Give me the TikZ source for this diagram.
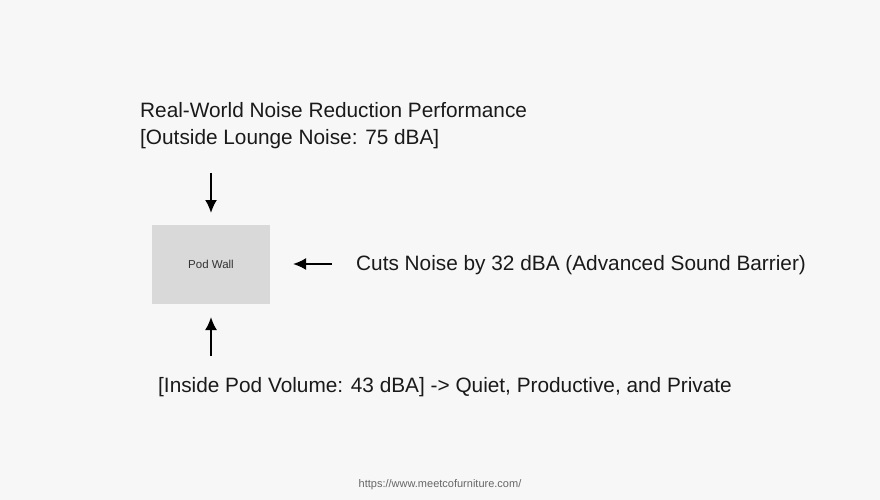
\documentclass[tikz,border=0pt]{standalone}
\usepackage{fontspec}
\setmainfont{Liberation Sans}
\usetikzlibrary{arrows.meta}
\definecolor{bg}{HTML}{F7F7F7}
\definecolor{boxfill}{HTML}{D9D9D9}
\definecolor{txt}{HTML}{1A1A1A}
\definecolor{urlc}{HTML}{666666}
\tikzset{
  lbl/.style={anchor=west, inner sep=0pt, text=txt, font=\fontsize{20.8}{24}\selectfont},
  podbox/.style={fill=boxfill, draw=none, minimum width=118pt, minimum height=79pt, inner sep=0pt, font=\fontsize{11.5}{13}\selectfont, text=black!80},
  arr/.style={line width=2pt, -{Latex[length=13pt,width=12pt]}, draw=black}
}
\begin{document}
\begin{tikzpicture}[x=1pt,y=-1pt]
\fill[bg] (0,0) rectangle (880,500);
\useasboundingbox (0,0) rectangle (880,500);
\node[lbl] (t1) at (140,110) {Real-World Noise Reduction Performance};
\node[lbl] (t2) at (140,139) {[Outside Lounge Noise: 75 dBA]};
\node[podbox] (pod) at (211,264.5) {Pod Wall};
\node[lbl] (cut) at (356,265) {Cuts Noise by 32 dBA (Advanced Sound Barrier)};
\node[lbl] (ins) at (158,387) {[Inside Pod Volume: 43 dBA] -> Quiet, Productive, and Private};
\node[anchor=center, inner sep=0pt, text=urlc, font=\fontsize{11}{13}\selectfont] (url) at (440,485) {https://www.meetcofurniture.com/};
\coordinate (topS) at (211,173);
\coordinate (topE) at (211,213);
\coordinate (rS) at (332,264);
\coordinate (rE) at (293,264);
\coordinate (bS) at (211,356);
\coordinate (bE) at (211,317);
\draw[arr] (topS) -- (topE);
\draw[arr] (rS) -- (rE);
\draw[arr] (bS) -- (bE);
\end{tikzpicture}
\end{document}
